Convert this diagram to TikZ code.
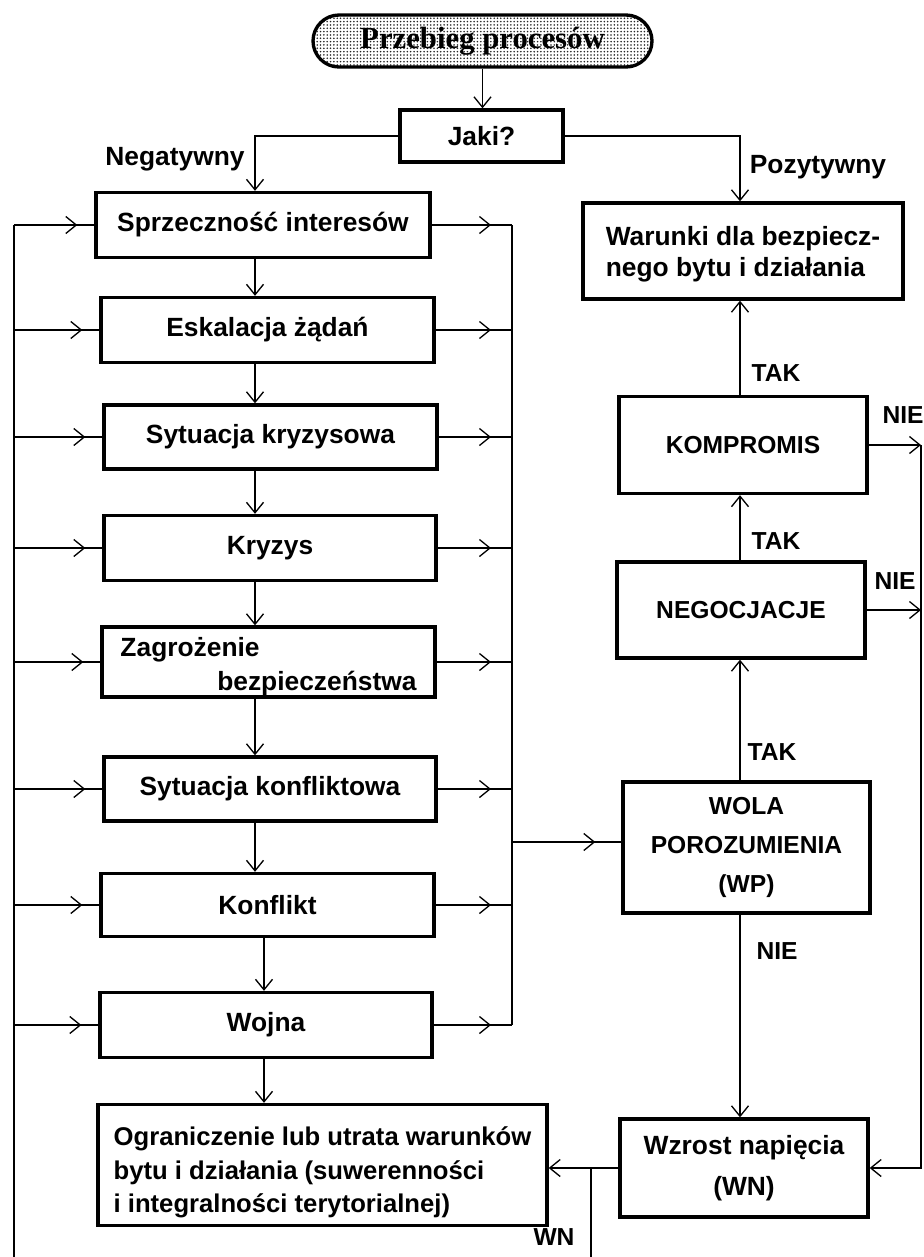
\documentclass[tikz,border=0pt]{standalone}
\usepackage{fontspec}
\setmainfont{Liberation Sans}
\newfontfamily\pillfont{Liberation Serif}
\usetikzlibrary{arrows.meta,decorations.markings,patterns.meta}
\begin{document}
\begin{tikzpicture}[x=0.2mm,y=-0.2mm,
  box/.style={draw, line width=1.9pt, inner sep=0pt, fill=white,
    font=\fontsize{15}{17}\selectfont\bfseries},
  sz/.style 2 args={minimum width=#1*0.2mm, minimum height=#2*0.2mm},
  capbox/.style={box, font=\fontsize{14}{16}\selectfont\bfseries},
  conn/.style={line width=0.75pt},
  arr/.style={conn, -{Straight Barb[length=2.1mm,width=3.4mm,line width=0.75pt]}},
  midarr/.style={conn, postaction={decorate},
    decoration={markings, mark=at position #1 with
      {\arrow{Straight Barb[length=2.1mm,width=3.4mm,line width=0.75pt]}}}},
  lbl/.style={font=\fontsize{15}{17}\selectfont\bfseries, inner sep=0pt},
  caplbl/.style={font=\fontsize{14}{16}\selectfont\bfseries, inner sep=0pt},
  pill/.style={draw, line width=1.9pt, rounded corners=5.2mm, inner sep=0pt,
    pattern={Dots[distance=1.9pt, radius=0.5pt]}, pattern color=black!85,
    font=\pillfont\fontsize{17.5}{19}\selectfont\bfseries},
]
\useasboundingbox[fill=white] (0,0) rectangle (924,1257);

% helper columns
\coordinate (Lx) at (14,1257);
\coordinate (Rx) at (512,0);
\coordinate (CLx) at (255,0);
\coordinate (CLy) at (264,0);
\coordinate (Cx) at (740,0);
\coordinate (Ex) at (921,0);
\coordinate (Jx) at (591,1257);

% title and question
\node[pill, sz={339}{52}] (title) at (482.5,41) {Przebieg procesów};
\node[box, sz={163}{52}] (jaki) at (481.5,136) {Jaki?};

% left column
\node[box, sz={334}{65}] (spr)  at (263,225)    {Sprzeczność interesów};
\node[box, sz={333}{65}] (esk)  at (267.5,330)  {Eskalacja żądań};
\node[box, sz={333}{64}] (sytk) at (270.5,437)  {Sytuacja kryzysowa};
\node[box, sz={332}{65}] (kry)  at (270,548)    {Kryzys};
\node[box, sz={333}{70}, font=\fontsize{15}{19.5}\selectfont\bfseries] (zag) at (268.5,662)
  {\raisebox{-0.9mm}[\height][\depth]{\parbox{59.2mm}{Zagrożenie\\\hspace*{\fill}bezpieczeństwa}}};
\node[box, sz={332}{64}] (sytf) at (270,789)    {Sytuacja konfliktowa};
\node[box, sz={333}{63}] (kon)  at (267.5,905)  {Konflikt};
\node[box, sz={332}{65}] (woj)  at (266,1025)   {Wojna};
\node[box, sz={449}{121}, font=\fontsize{14.6}{19}\selectfont\bfseries] (ogr) at (322.5,1165)
  {\raisebox{-1.5mm}[\height][\depth]{\begin{tabular}{@{}l@{}}Ograniczenie lub utrata warunków\\bytu i działania (suwerenności\\i integralności terytorialnej)\end{tabular}}};

% right column
\node[box, sz={320}{96}, font=\fontsize{15}{17.5}\selectfont\bfseries] (war) at (743,251)
  {\raisebox{-0.8mm}[\height][\depth]{\begin{tabular}{@{}l@{}}Warunki dla bezpiecz-\\nego bytu i działania\end{tabular}}};
\node[capbox, sz={248}{97}] (kom) at (743,445) {KOMPROMIS};
\node[capbox, sz={248}{96}] (neg) at (741,610) {NEGOCJACJE};
\node[capbox, sz={247}{131}, align=center, font=\fontsize{14}{22}\selectfont\bfseries] (wola) at (746.5,847.5)
  {WOLA\\POROZUMIENIA\\(WP)};
\node[box, sz={248}{98}, align=center, font=\fontsize{15}{23.5}\selectfont\bfseries] (wzr) at (744,1168)
  {Wzrost napięcia\\(WN)};

% labels
\node[lbl] (lNeg) at (175,159) {Negatywny};
\node[lbl] (lPoz) at (818,167) {Pozytywny};
\node[caplbl] (lTak1) at (776,373) {TAK};
\node[caplbl] (lTak2) at (776,541) {TAK};
\node[caplbl] (lTak3) at (772,752) {TAK};
\node[caplbl] (lNie1) at (903,415) {NIE};
\node[caplbl] (lNie2) at (895,581) {NIE};
\node[caplbl] (lNie3) at (777,951) {NIE};
\node[caplbl] (lWN) at (554,1237) {WN};

% top connectors
\draw[arr] (title.south) -- (title.south |- jaki.north);
\draw[arr] (jaki.west) -| (spr.north -| CLx);
\draw[arr] (jaki.east) -| (war.north -| Cx);

% left chain
\draw[arr] (spr.south -| CLx)  -- (esk.north -| CLx);
\draw[arr] (esk.south -| CLx)  -- (sytk.north -| CLx);
\draw[arr] (sytk.south -| CLx) -- (kry.north -| CLx);
\draw[arr] (kry.south -| CLx)  -- (zag.north -| CLx);
\draw[arr] (zag.south -| CLx)  -- (sytf.north -| CLx);
\draw[arr] (sytf.south -| CLx) -- (kon.north -| CLx);
\draw[arr] (kon.south -| CLy)  -- (woj.north -| CLy);
\draw[arr] (woj.south -| CLy)  -- (ogr.north -| CLy);

% left feedback line
\draw[conn] (spr.west -| Lx) -- (Lx);
\foreach \b in {spr,esk,sytk,kry,zag,sytf,kon,woj}
  \draw[midarr=-3.4mm] (\b.west -| Lx) -- (\b.west);

% right collector line
\draw[conn] (spr.east -| Rx) -- (woj.east -| Rx);
\foreach \b in {spr,esk,sytk,kry,zag,sytf,kon,woj}
  \draw[midarr=-4.2mm] (\b.east) -- (\b.east -| Rx);
\draw[midarr=-5.2mm] ([yshift=1.1mm]wola.west -| Rx) -- ([yshift=1.1mm]wola.west);

% right column chain
\draw[arr] (kom.north -| Cx) -- (war.south -| Cx);
\draw[arr] (neg.north -| Cx) -- (kom.south -| Cx);
\draw[arr] (wola.north -| Cx) -- (neg.south -| Cx);
\draw[arr] (wola.south -| Cx) -- (wzr.north -| Cx);

% NIE branches
\draw[arr] (kom.east) -- (kom.east -| Ex);
\draw[arr] (neg.east) -- (neg.east -| Ex);
\draw[arr] (kom.east -| Ex) |- (wzr.east);

% WN
\draw[arr] (wzr.west) -- (wzr.west -| ogr.east);
\draw[conn] (wzr.west -| Jx) -- (Jx);
\end{tikzpicture}
\end{document}
